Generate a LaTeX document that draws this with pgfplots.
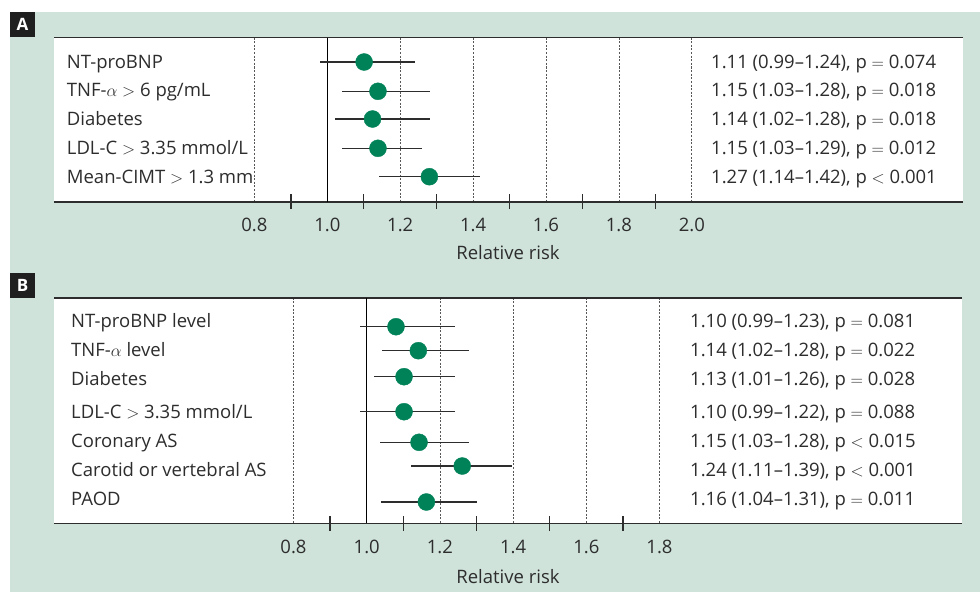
\documentclass[border=0pt]{standalone}
\usepackage{pgfplots}
\pgfplotsset{compat=1.18}
\usepackage{pgfplotstable}
\usepackage{fontspec}
\setmainfont{Open Sans}
\definecolor{bggreen}{RGB}{207,227,219}
\definecolor{dotgreen}{RGB}{0,130,88}
\definecolor{ink}{RGB}{45,45,45}

\pgfplotstableread{
x y lo hi
1.101 62.0 0.980 1.240
1.139 91.3 1.039 1.282
1.124 119.0 1.022 1.282
1.139 148.3 1.039 1.261
1.280 176.7 1.142 1.420
}\dataA

\pgfplotstableread{
x y lo hi
1.080 326.7 0.982 1.241
1.141 350.7 1.043 1.279
1.102 376.7 1.020 1.240
1.102 411.7 0.982 1.242
1.143 442.3 1.037 1.280
1.261 466.0 1.122 1.398
1.163 502.0 1.039 1.300
}\dataB

\pgfplotsset{
  forest/.style={
    scale only axis,
    clip=false,
    y dir=reverse,
    axis x line=box,
    axis y line=none,
    xtick pos=lower,
    ytick=\empty,
    axis line style={draw=ink, line width=1.6bp},
    axis background/.style={fill=white},
    major tick length=0pt,
    minor tick length=15bp,
    tick align=center,
    minor tick style={draw=ink, line width=1.3bp},
    xmajorgrids=true,
    major grid style={draw=ink!80, line width=0.8bp, dash pattern=on 2bp off 1.6bp},
    xticklabel style={anchor=base, yshift=-30bp, text=ink, font=\fontsize{18.5bp}{22bp}\selectfont},
  },
  forestplot/.style={
    only marks,
    mark=*,
    mark size=8.5bp,
    mark options={draw=dotgreen, fill=dotgreen},
    error bars/.cd,
      x dir=both, x explicit,
      error mark=none,
      error bar style={draw=ink, line width=1.3bp},
  },
}

\begin{document}
\begin{tikzpicture}
\begin{scope}[x=1bp,y=-1bp]
\useasboundingbox (0,0) rectangle (980,592);
\fill[white] (0,0) rectangle (980,592);
\fill[bggreen] (10,12) rectangle (980,592);
\fill[black!88] (10,12) rectangle (35,37);
\fill[black!88] (10,272.7) rectangle (35,297.7);
\node[text=white, font=\fontsize{17bp}{20bp}\selectfont\bfseries] at (22.5,24.5) {A};
\node[text=white, font=\fontsize{17bp}{20bp}\selectfont\bfseries] at (22.5,285.2) {B};
\end{scope}

% Panel A
\begin{axis}[forest,
  at={(54bp,-201.7bp)}, anchor=south west,
  width=908.7bp, height=164bp,
  xmin=0.2502, xmax=2.7432, ymin=37.7, ymax=201.7,
  xtick={0.8,1.0,1.2,1.4,1.6,1.8,2.0},
  xticklabels={0.8,1.0,1.2,1.4,1.6,1.8,2.0},
  minor xtick={0.9,1.1,1.3,1.5,1.7,1.9},
]
\addplot[draw=black, line width=1.3bp] coordinates {(1,37.7) (1,201.7)};
\addplot[forestplot] table[x=x, y=y,
  x error plus expr=\thisrow{hi}-\thisrow{x},
  x error minus expr=\thisrow{x}-\thisrow{lo}] {\dataA};
\end{axis}

% Panel B
\begin{axis}[forest,
  at={(54bp,-523.3bp)}, anchor=south west,
  width=908.3bp, height=225.6bp,
  xmin=0.1456, xmax=2.6273, ymin=297.7, ymax=523.3,
  xtick={0.8,1.0,1.2,1.4,1.6,1.8},
  xticklabels={0.8,1.0,1.2,1.4,1.6,1.8},
  minor xtick={0.9,1.1,1.3,1.5,1.7},
]
\addplot[draw=black, line width=1.3bp] coordinates {(1,297.7) (1,523.3)};
\addplot[forestplot] table[x=x, y=y,
  x error plus expr=\thisrow{hi}-\thisrow{x},
  x error minus expr=\thisrow{x}-\thisrow{lo}] {\dataB};
\end{axis}

\begin{scope}[x=1bp,y=-1bp, every node/.style={text=ink, font=\fontsize{18.5bp}{22bp}\selectfont, inner sep=0pt}]
% Panel A labels
\node[anchor=base west] at (66.7,68.3) {NT-proBNP};
\node[anchor=base west] at (66.7,96.7) {TNF-$\alpha$ $>$ 6 pg/mL};
\node[anchor=base west] at (66.7,125.7) {Diabetes};
\node[anchor=base west] at (66.7,155) {LDL-C $>$ 3.35 mmol/L};
\node[anchor=base west] at (66.7,184) {Mean-CIMT $>$ 1.3 mm};
\node[anchor=base west] at (711,68.3) {1.11 (0.99–1.24), p $=$ 0.074};
\node[anchor=base west] at (711,96.7) {1.15 (1.03–1.28), p $=$ 0.018};
\node[anchor=base west] at (711,125.7) {1.14 (1.02–1.28), p $=$ 0.018};
\node[anchor=base west] at (711,155) {1.15 (1.03–1.29), p $=$ 0.012};
\node[anchor=base west] at (711,184) {1.27 (1.14–1.42), p $<$ 0.001};
\node[anchor=base] at (508,259.3) {Relative risk};
% Panel B labels
\node[anchor=base west] at (71,327.3) {NT-proBNP level};
\node[anchor=base west] at (71,356.7) {TNF-$\alpha$ level};
\node[anchor=base west] at (71,385.7) {Diabetes};
\node[anchor=base west] at (71,418.3) {LDL-C $>$ 3.35 mmol/L};
\node[anchor=base west] at (71,447.3) {Coronary AS};
\node[anchor=base west] at (71,476.7) {Carotid or vertebral AS};
\node[anchor=base west] at (71,505.3) {PAOD};
\node[anchor=base west] at (690,327.7) {1.10 (0.99–1.23), p $=$ 0.081};
\node[anchor=base west] at (690,356.7) {1.14 (1.02–1.28), p $=$ 0.022};
\node[anchor=base west] at (690,385) {1.13 (1.01–1.26), p $=$ 0.028};
\node[anchor=base west] at (690,418.3) {1.10 (0.99–1.22), p $=$ 0.088};
\node[anchor=base west] at (690,447.7) {1.15 (1.03–1.28), p $<$ 0.015};
\node[anchor=base west] at (690,476.7) {1.24 (1.11–1.39), p $<$ 0.001};
\node[anchor=base west] at (690,505.7) {1.16 (1.04–1.31), p $=$ 0.011};
\node[anchor=base] at (508,583.3) {Relative risk};
\end{scope}
\end{tikzpicture}
\end{document}
